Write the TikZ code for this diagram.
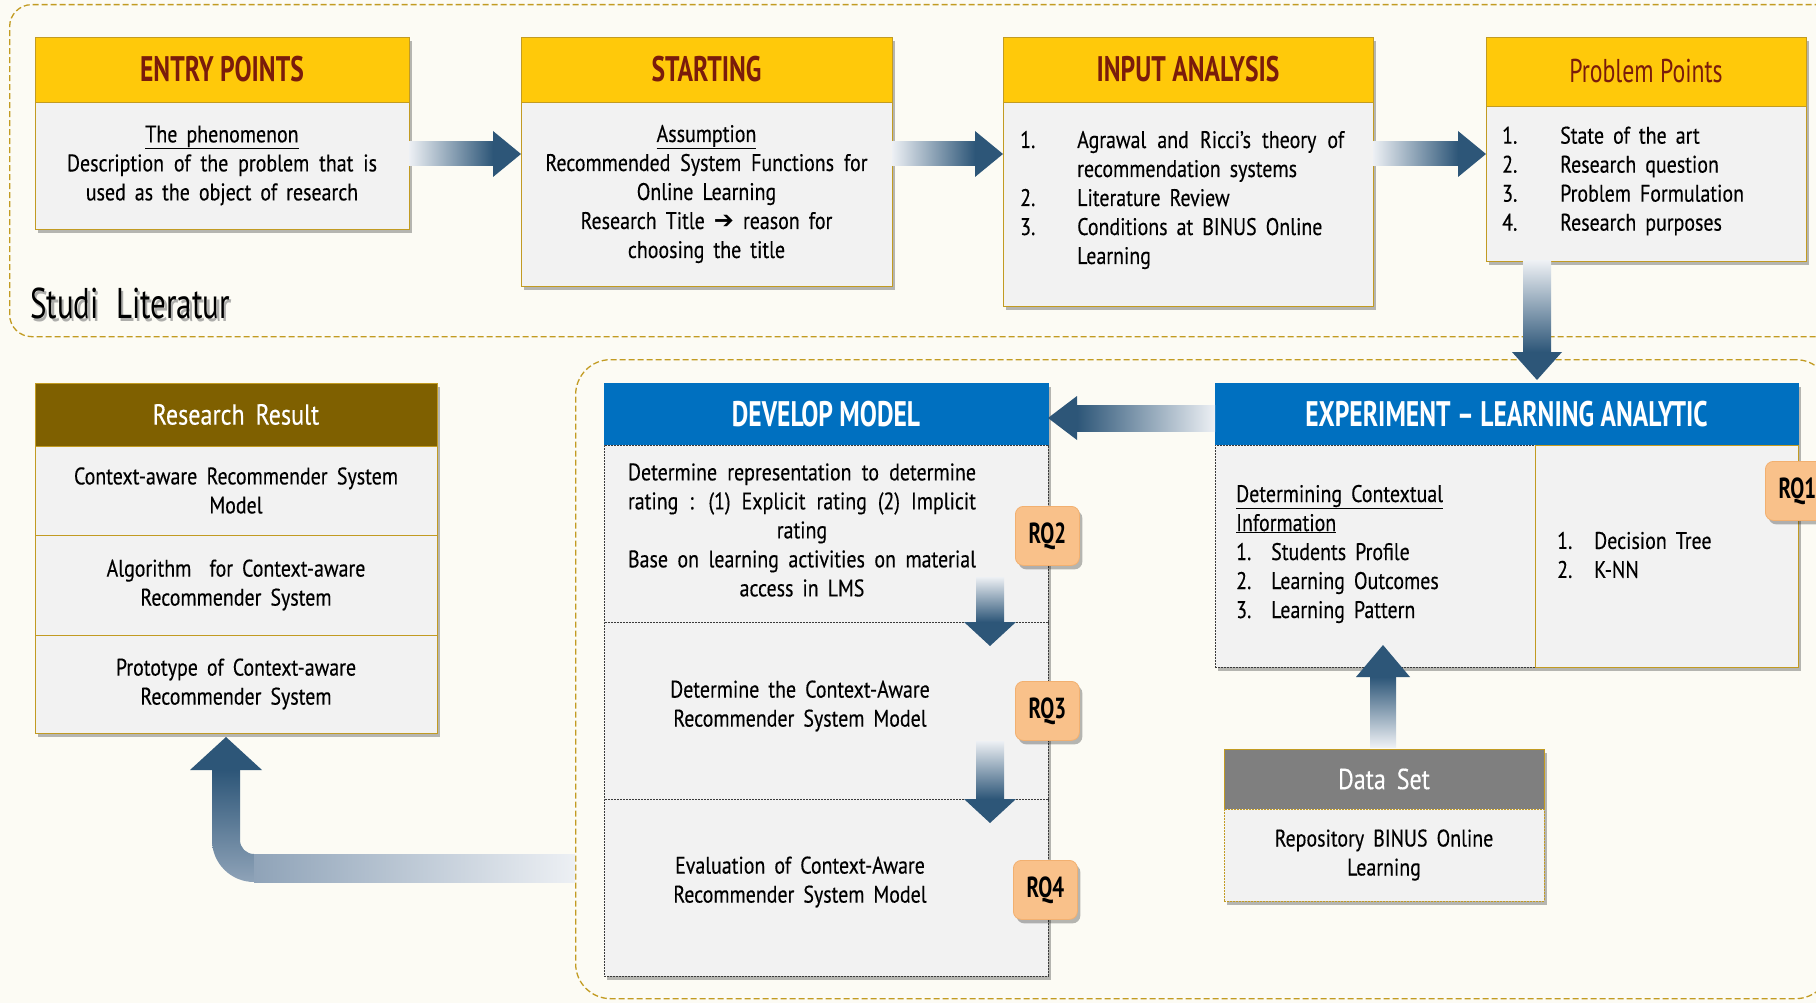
\documentclass[tikz,border=0pt]{standalone}
\usepackage{fontspec}
\setmainfont[FakeStretch=0.83,WordSpace=1.7,FakeBold=0.3]{PT Sans}
\newfontfamily\headfont[FakeStretch=0.72,Ligatures=TeX]{PT Sans}
\newfontfamily\symfont{DejaVu Sans}
\usetikzlibrary{calc,shadows}

\definecolor{bgcream}{HTML}{FCFBF4}
\definecolor{gold}{HTML}{C29B22}
\definecolor{hdryellow}{HTML}{FFC90A}
\definecolor{hdrtext}{HTML}{7A1C0B}
\definecolor{bodyfill}{HTML}{F2F2F2}
\definecolor{modelblue}{HTML}{0070C0}
\definecolor{resbrown}{HTML}{7F6000}
\definecolor{datagray}{HTML}{7F7F7F}
\definecolor{badge}{HTML}{F9C18A}
\definecolor{badgeline}{HTML}{F2B070}
\definecolor{ardark}{HTML}{2D5678}
\definecolor{armid}{HTML}{8FA3B8}
\definecolor{arlight}{HTML}{EDF0F4}
\definecolor{celledge}{HTML}{3A3A3A}

\tikzset{
  boxshadow/.style={drop shadow={shadow xshift=3pt,shadow yshift=-4pt,opacity=0.28,fill=black}},
  box/.style={anchor=north west,inner sep=0pt,outer sep=0pt,line width=0.8pt,boxshadow},
  yhead/.style={box,draw=gold,fill=hdryellow,text=hdrtext,font=\headfont\bfseries\fontsize{35.5}{38}\selectfont},
  bhead/.style={box,draw=modelblue,fill=modelblue,text=white,font=\headfont\bfseries\fontsize{35.5}{38}\selectfont},
  plainhead/.style={box,text=white,font=\fontsize{29}{32}\selectfont},
  bodytext/.style={font=\fontsize{24}{29}\selectfont},
  goldcell/.style={box,draw=gold,fill=bodyfill,bodytext,align=center},
  dashcell/.style={box,draw=celledge,dash pattern=on 2pt off 1pt,line width=1pt,fill=bodyfill,bodytext,align=center},
  listtext/.style={anchor=west,inner sep=0pt,bodytext,align=left},
  rq/.style={anchor=north west,minimum width=64,minimum height=59,rounded corners=8pt,fill=badge,draw=badgeline,line width=0.8pt,
    font=\headfont\bfseries\fontsize{29}{31}\selectfont,boxshadow},
  region/.style={anchor=north west,inner sep=0pt,draw=gold,line width=1.3pt,dash pattern=on 6pt off 3pt},
  stagelabel/.style={anchor=west,inner sep=0pt,font=\headfont\fontsize{43}{46}\selectfont}
}

% block arrows: tail point, tip point, shaft half width, head half width, head length
\newcommand\arrowR[5]{%
  \shade[left color=arlight,right color=ardark] let \p1=#1, \p2=#2 in (\x1,\y1-#3pt) rectangle (\x2-#5pt,\y1+#3pt);
  \fill[ardark] let \p1=#1, \p2=#2 in (\x2-#5pt,\y1-#4pt) -- (\x2,\y1) -- (\x2-#5pt,\y1+#4pt) -- cycle;}
\newcommand\arrowL[5]{%
  \shade[left color=ardark,right color=arlight] let \p1=#1, \p2=#2 in (\x2+#5pt,\y1-#3pt) rectangle (\x1,\y1+#3pt);
  \fill[ardark] let \p1=#1, \p2=#2 in (\x2+#5pt,\y1-#4pt) -- (\x2,\y1) -- (\x2+#5pt,\y1+#4pt) -- cycle;}
\newcommand\arrowD[5]{%
  \shade[top color=arlight,bottom color=ardark] let \p1=#1, \p2=#2 in (\x1-#3pt,\y1) rectangle (\x1+#3pt,\y2+#5pt);
  \fill[ardark] let \p1=#1, \p2=#2 in (\x1-#4pt,\y2+#5pt) -- (\x1,\y2) -- (\x1+#4pt,\y2+#5pt) -- cycle;}
\newcommand\arrowU[5]{%
  \shade[top color=ardark,bottom color=arlight] let \p1=#1, \p2=#2 in (\x1-#3pt,\y1) rectangle (\x1+#3pt,\y2-#5pt);
  \fill[ardark] let \p1=#1, \p2=#2 in (\x1-#4pt,\y2-#5pt) -- (\x1,\y2) -- (\x1+#4pt,\y2-#5pt) -- cycle;}

\begin{document}
\begin{tikzpicture}[x=1pt,y=-1pt]
\fill[bgcream] (0,0) rectangle (1816,1003);
\useasboundingbox (0,0) rectangle (1816,1003);

% ---------- literature study stage ----------
\node[region,rounded corners=22pt,minimum width=1860,minimum height=332] (topregion) at (9,4) {};
\node[stagelabel,text=black!45,opacity=0.7] (studishadow) at (32.5,306) {Studi\hspace{9pt} Literatur};
\node[stagelabel] (studi) at (30,303) {Studi\hspace{9pt} Literatur};

\node[yhead,minimum width=374,minimum height=65] (entryH) at (35,37) {ENTRY POINTS};
\node[goldcell,minimum width=374,minimum height=127] (entryB) at (35,102)
  {\underline{The phenomenon}\\\makebox[310pt][s]{Description of the problem that is}\\used as the object of research};

\node[yhead,minimum width=371,minimum height=65] (startH) at (521,37) {STARTING};
\node[goldcell,minimum width=371,minimum height=184] (startB) at (521,102)
  {\underline{Assumption}\\\makebox[322pt][s]{Recommended System Functions for}\\Online Learning\\
   Research Title {\symfont ➔} reason for\\choosing the title};

\node[yhead,minimum width=370,minimum height=65] (inputH) at (1003,37) {INPUT ANALYSIS};
\node[goldcell,minimum width=370,minimum height=204] (inputB) at (1003,102) {};
\node[listtext] (inputL) at (1020,200)
  {\makebox[57pt][l]{1.}\makebox[267pt][s]{Agrawal and Ricci's theory of}\\
   \hspace*{57pt}recommendation systems\\
   \makebox[57pt][l]{2.}Literature Review\\
   \makebox[57pt][l]{3.}Conditions at BINUS Online\\
   \hspace*{57pt}Learning};

\node[yhead,font=\headfont\fontsize{33}{36}\selectfont,minimum width=320,minimum height=69] (probH) at (1486,37) {Problem Points};
\node[goldcell,minimum width=320,minimum height=155] (probB) at (1486,106) {};
\node[listtext] (probL) at (1502,181)
  {\makebox[58pt][l]{1.}State of the art\\
   \makebox[58pt][l]{2.}Research question\\
   \makebox[58pt][l]{3.}Problem Formulation\\
   \makebox[58pt][l]{4.}Research purposes};

\coordinate (row1) at (0,154);
\arrowR{(entryB.east |- row1)}{(startB.west |- row1)}{12}{23}{28}
\arrowR{(startB.east |- row1)}{(inputB.west |- row1)}{12}{23}{28}
\arrowR{(inputB.east |- row1)}{(probB.west |- row1)}{12}{23}{28}

% ---------- model development stage ----------
\node[region,rounded corners=35pt,minimum width=1255,minimum height=639] (lowregion) at (575,359) {};

\node[plainhead,draw=gold,fill=resbrown,minimum width=402,minimum height=63] (resH) at (35,383) {Research Result};
\node[goldcell,minimum width=402,minimum height=89] (resB1) at (35,446)
  {\makebox[324pt][s]{Context-aware Recommender System}\\Model};
\node[goldcell,minimum width=402,minimum height=100] (resB2) at (35,535)
  {Algorithm\ \ for Context-aware\\Recommender System};
\node[goldcell,minimum width=402,minimum height=98] (resB3) at (35,635)
  {Prototype of Context-aware\\Recommender System};

\node[bhead,minimum width=444,minimum height=62] (devH) at (604,383) {DEVELOP MODEL};
\node[dashcell,minimum width=444,minimum height=177] (devB1) at (604,445) {};
\node[dashcell,minimum width=444,minimum height=177] (devB2) at (604,622) {};
\node[dashcell,minimum width=444,minimum height=177] (devB3) at (604,799) {};
\node[bodytext,align=center,inner sep=0pt] (devT1) at (802,530)
  {\makebox[348pt][s]{Determine representation to determine}\\
   \makebox[348pt][s]{rating : (1) Explicit rating (2) Implicit}\\
   rating\\
   \makebox[348pt][s]{Base on learning activities on material}\\
   access in LMS};
\node[bodytext,align=center,inner sep=0pt] (devT2) at (800,706)
  {Determine the Context-Aware\\Recommender System Model};
\node[bodytext,align=center,inner sep=0pt] (devT3) at (800,882)
  {Evaluation of Context-Aware\\Recommender System Model};

\node[bhead,minimum width=583,minimum height=62] (expH) at (1215,383) {EXPERIMENT – LEARNING ANALYTIC};
\node[dashcell,minimum width=320,minimum height=222] (expL) at (1215,445) {};
\node[goldcell,minimum width=263,minimum height=222] (expR) at (1535,445) {};
\node[listtext] (expLT) at (1236,554)
  {\underline{Determining Contextual}\\
   \underline{Information}\\
   \makebox[35pt][l]{1.}Students Profile\\
   \makebox[35pt][l]{2.}Learning Outcomes\\
   \makebox[35pt][l]{3.}Learning Pattern};
\node[listtext] (expRT) at (1557,555)
  {\makebox[37pt][l]{1.}Decision Tree\\
   \makebox[37pt][l]{2.}K-NN};

\node[plainhead,draw=gold,fill=datagray,minimum width=320,minimum height=60] (dataH) at (1224,749) {Data Set};
\node[goldcell,dash pattern=on 2pt off 1pt,minimum width=320,minimum height=92] (dataB) at (1224,809)
  {Repository BINUS Online\\Learning};

\node[rq] (rq1) at (1765,461) {RQ1};
\node[rq] (rq2) at (1015,506) {RQ2};
\node[rq] (rq3) at (1015,681) {RQ3};
\node[rq] (rq4) at (1013,860) {RQ4};

% flow between the stages
\coordinate (col1) at (1537,0);
\arrowD{(probB.south -| col1)}{($(expH.north -| col1)+(0,-3)$)}{14}{25}{28}
\coordinate (row2) at (0,418);
\arrowL{(expH.west |- row2)}{(devH.east |- row2)}{13}{22}{29}
\coordinate (col2) at (990,0);
\arrowD{($(devB1.south -| col2)+(0,-45)$)}{($(devB1.south -| col2)+(0,24)$)}{14}{26}{24}
\arrowD{($(devB2.south -| col2)+(0,-58)$)}{($(devB2.south -| col2)+(0,24)$)}{14}{26}{24}
\coordinate (col3) at (1383,0);
\arrowU{($(dataH.north -| col3)+(0,-2)$)}{($(expL.south -| col3)+(0,-22)$)}{13}{27}{32}

% bent arrow from the model stage back to the results
\coordinate (row3) at (0,868);
\shade[top color=ardark,bottom color=armid] let \p1=(lowregion.west |- row3), \p2=($(resB3.south)+(-10,4)$) in
  (\x2-14pt,\y2-33pt) -- (\x2-14pt,\y1+28pt) arc[start angle=180,end angle=270,radius=42pt]
  -- (\x2+28pt,\y1+14pt) arc[start angle=270,end angle=180,radius=14pt] -- (\x2+14pt,\y2-33pt) -- cycle;
\shade[left color=armid,right color=arlight] let \p1=(lowregion.west |- row3), \p2=($(resB3.south)+(-10,4)$) in
  (\x2+28pt,\y1-14pt) rectangle (\x1,\y1+14pt);
\fill[ardark] let \p1=(lowregion.west |- row3), \p2=($(resB3.south)+(-10,4)$) in
  (\x2-36pt,\y2-33pt) -- (\x2,\y2) -- (\x2+36pt,\y2-33pt) -- cycle;
\end{tikzpicture}
\end{document}
